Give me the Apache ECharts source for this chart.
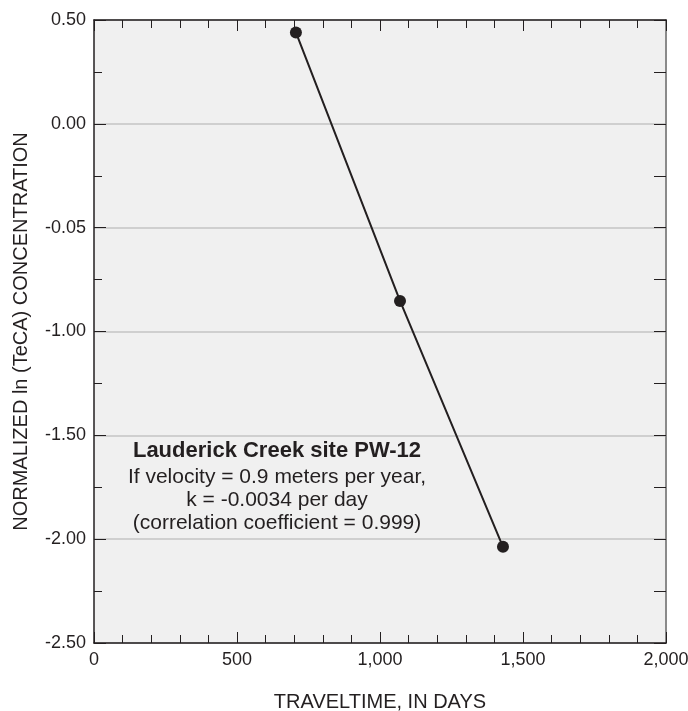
<!DOCTYPE html>
<html>
<head>
<meta charset="utf-8">
<script src="https://cdn.jsdelivr.net/npm/echarts@6/dist/echarts.min.js"></script>
<style>
  html, body { margin: 0; padding: 0; background: #fff; }
  #chart { width: 688px; height: 711px; }
</style>
</head>
<body>
<div id="chart"></div>
<script>
// Traveltime vs normalized ln(TeCA) concentration, Lauderick Creek PW-12
var traveltime = [706, 1070, 1430];
var lnConc = [0.44, -0.853, -2.037];

// y tick labels as printed (the -0.05 is in the original figure)
var yTickValues = [0.5, 0, -0.5, -1, -1.5, -2, -2.5];
var yTickLabels = ['0.50', '0.00', '-0.05', '-1.00', '-1.50', '-2.00', '-2.50'];
var xTickValues = [0, 500, 1000, 1500, 2000];
var xTickLabels = ['0', '500', '1,000', '1,500', '2,000'];

var noteTitle = 'Lauderick Creek site PW-12';
var noteLines = [
  'If velocity = 0.9 meters per year,',
  'k = -0.0034 per day',
  '(correlation coefficient = 0.999)'
];

var ink = '#231f20';
var font = 'Liberation Sans, Arial, Helvetica, sans-serif';

function lookup(values, labels, v) {
  for (var i = 0; i < values.length; i++) {
    if (Math.abs(values[i] - v) < 1e-9) return labels[i];
  }
  return '';
}

var chart = echarts.init(document.getElementById('chart'), null, { renderer: 'canvas' });

var xBase = {
  type: 'value',
  min: 0,
  max: 2000,
  interval: 500,
  axisLine: { show: true, onZero: false, lineStyle: { color: ink, width: 1.5 } },
  axisTick: { show: true, inside: true, length: 11, lineStyle: { color: ink, width: 1 } },
  minorTick: { show: true, splitNumber: 5, length: 8, lineStyle: { color: ink, width: 1 } },
  splitLine: { show: false }
};

var yBase = {
  type: 'value',
  min: -2.5,
  max: 0.5,
  interval: 0.5,
  axisLine: { show: true, onZero: false, lineStyle: { color: ink, width: 1.5 } },
  axisTick: { show: true, inside: true, length: 12, lineStyle: { color: ink, width: 1 } },
  minorTick: { show: true, splitNumber: 2, length: 8, lineStyle: { color: ink, width: 1 } }
};

// annotation block, centred under the line
var noteX = 277;
var notes = [{
  type: 'text', x: noteX, y: 451, z: 10,
  style: { text: noteTitle, font: 'bold 22px ' + font, fill: ink, align: 'center', verticalAlign: 'middle' }
}];
noteLines.forEach(function(t, i) {
  notes.push({
    type: 'text', x: noteX, y: 477 + i * 23, z: 10,
    style: { text: t, font: '21px ' + font, fill: ink, align: 'center', verticalAlign: 'middle' }
  });
});

chart.setOption({
  animation: false,
  grid: {
    left: 94, right: 22, top: 20, bottom: 68,
    outerBoundsMode: 'none',
    containLabel: false,
    show: true,
    backgroundColor: '#f0f0f0',
    borderWidth: 0
  },
  xAxis: [
    Object.assign({}, xBase, {
      position: 'bottom',
      name: 'TRAVELTIME, IN DAYS',
      nameLocation: 'middle',
      nameGap: 49,
      nameTextStyle: { color: ink, fontSize: 20, fontFamily: font },
      axisLabel: {
        color: ink, fontSize: 18, fontFamily: font, margin: 8,
        formatter: function(v) { return lookup(xTickValues, xTickLabels, v); }
      }
    }),
    Object.assign({}, xBase, {
      position: 'top',
      axisLabel: { show: false }
    })
  ],
  yAxis: [
    Object.assign({}, yBase, {
      position: 'left',
      name: 'NORMALIZED ln (TeCA) CONCENTRATION',
      nameLocation: 'middle',
      nameGap: 63,
      nameTextStyle: { color: ink, fontSize: 20, fontFamily: font },
      axisLabel: {
        color: ink, fontSize: 18, fontFamily: font, margin: 8,
        formatter: function(v) { return lookup(yTickValues, yTickLabels, v); }
      },
      splitLine: { show: true, lineStyle: { color: '#c4c4c4', width: 1.5 } }
    }),
    Object.assign({}, yBase, {
      position: 'right',
      axisLine: { show: true, onZero: false, lineStyle: { color: '#8a8a8a', width: 2 } },
      axisTick: { show: true, inside: true, length: 12, lineStyle: { color: ink, width: 1 } },
      minorTick: { show: true, splitNumber: 2, length: 12, lineStyle: { color: ink, width: 1 } },
      axisLabel: { show: false },
      splitLine: { show: false }
    })
  ],
  graphic: notes,
  series: [{
    type: 'line',
    xAxisIndex: 0,
    yAxisIndex: 0,
    data: traveltime.map(function(t, i) { return [t, lnConc[i]]; }),
    symbol: 'circle',
    symbolSize: 12,
    lineStyle: { color: ink, width: 2 },
    itemStyle: { color: ink },
    z: 5
  }]
});
</script>
</body>
</html>
